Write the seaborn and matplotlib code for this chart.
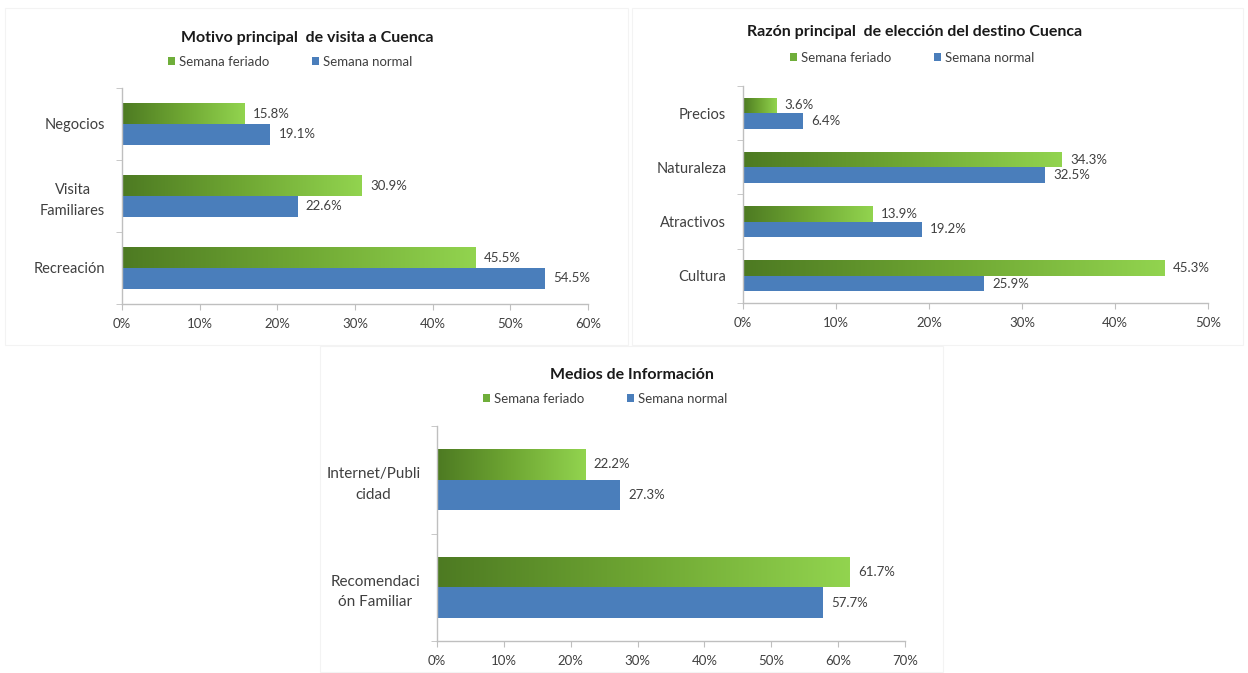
import numpy as np
import pandas as pd
import matplotlib
matplotlib.use("Agg")
import matplotlib.pyplot as plt
import seaborn as sns
from matplotlib.colors import LinearSegmentedColormap
from matplotlib.patches import Rectangle, Patch
from matplotlib.ticker import FuncFormatter, MultipleLocator, FixedLocator

# ---------------- data ----------------
series = ["Semana feriado", "Semana normal"]

title1 = "Motivo principal  de visita a Cuenca"
cat1 = ["Negocios", "Visita\nFamiliares", "Recreación"]
feriado1 = [15.8, 30.9, 45.5]
normal1 = [19.1, 22.6, 54.5]
xmax1 = 60

title2 = "Razón principal  de elección del destino Cuenca"
cat2 = ["Precios", "Naturaleza", "Atractivos", "Cultura"]
feriado2 = [3.6, 34.3, 13.9, 45.3]
normal2 = [6.4, 32.5, 19.2, 25.9]
xmax2 = 50

title3 = "Medios de Información"
cat3 = ["Internet/Publi\ncidad", "Recomendaci\nón Familiar"]
feriado3 = [22.2, 61.7]
normal3 = [27.3, 57.7]
xmax3 = 70

# ---------------- style ----------------
sns.set_style("white")
plt.rcParams["font.family"] = ["Lato", "DejaVu Sans"]

W, H = 1248, 673
fig = plt.figure(figsize=(W / 100, H / 100), dpi=100)
fig.patch.set_facecolor("white")

GREEN_DARK = "#4d7a22"
GREEN_LIGHT = "#92d44f"
BLUE = "#4a7ebb"
TXT = "#404040"
AXC = "#bfbfbf"
green_cmap = LinearSegmentedColormap.from_list("g", [GREEN_DARK, "#6fa733", GREEN_LIGHT])


def px_axes(left, top, right, bottom):
    return fig.add_axes([left / W, 1 - bottom / H, (right - left) / W, (bottom - top) / H])


def panel(ax, cats, fer, nor, xmax, title, title_xy, legend_xy, ylab_size=10.5):
    df = pd.DataFrame({
        "cat": cats * 2,
        "serie": [series[0]] * len(cats) + [series[1]] * len(cats),
        "val": list(fer) + list(nor),
    })
    sns.barplot(data=df, y="cat", x="val", hue="serie", hue_order=series,
                order=cats, palette=[GREEN_LIGHT, BLUE], width=0.57, gap=0,
                orient="h", ax=ax, legend=False, saturation=1)
    n = len(cats)
    ax.set_xlim(0, xmax)
    ax.set_ylim(n - 0.5, -0.5)
    # gradient on green bars
    for p in ax.containers[0]:
        x0, y0 = p.get_x(), p.get_y()
        w, h = p.get_width(), p.get_height()
        p.set_facecolor("none")
        p.set_edgecolor("none")
        grad = np.linspace(0, 1, 256).reshape(1, -1)
        im = ax.imshow(grad, extent=[x0, x0 + w, y0 + h, y0], aspect="auto",
                       cmap=green_cmap, zorder=2, interpolation="bilinear")
        im.set_clip_path(p)
    for p in ax.containers[1]:
        p.set_edgecolor("none")
        p.set_zorder(2)
    ax.set_xlim(0, xmax)
    ax.set_ylim(n - 0.5, -0.5)
    ax.set_aspect("auto")
    # value labels
    for cont in ax.containers:
        for p in cont:
            v = p.get_width()
            ax.text(v + xmax * 0.018, p.get_y() + p.get_height() / 2, f"{v:.1f}%",
                    va="center", ha="left", fontsize=9.5, color=TXT, zorder=3)
    # axes styling
    ax.set_xlabel("")
    ax.set_ylabel("")
    for s in ["top", "right"]:
        ax.spines[s].set_visible(False)
    for s in ["left", "bottom"]:
        ax.spines[s].set_color(AXC)
        ax.spines[s].set_linewidth(1)
    ax.xaxis.set_major_locator(MultipleLocator(10))
    ax.xaxis.set_major_formatter(FuncFormatter(lambda v, _: f"{v:.0f}%"))
    ax.tick_params(axis="x", direction="out", length=4, color=AXC, labelsize=9.5,
                   labelcolor=TXT, pad=6, bottom=True)
    ax.tick_params(axis="y", length=0, labelsize=ylab_size, labelcolor=TXT, pad=12, left=False)
    ax.yaxis.set_minor_locator(FixedLocator(np.arange(-0.5, n, 1.0)))
    ax.tick_params(axis="y", which="minor", direction="out", length=4, color=AXC, left=True)
    ax.set_yticks(range(n))
    ax.set_yticklabels(cats, ha="right", multialignment="center", linespacing=1.6)
    ax.grid(False)
    # title & legend
    fig.text(title_xy[0] / W, 1 - title_xy[1] / H, title, ha="center", va="center",
             fontsize=11.5, fontweight="bold", color="#1a1a1a")
    handles = [Patch(facecolor="#6fae3a", edgecolor="none"), Patch(facecolor=BLUE, edgecolor="none")]
    fig.legend(handles, series, loc="center", ncol=2, frameon=False,
               bbox_to_anchor=(legend_xy[0] / W, 1 - legend_xy[1] / H),
               handlelength=0.55, handleheight=0.55, handletextpad=0.3,
               columnspacing=3.2, fontsize=9.5, labelcolor=TXT)


ax1 = px_axes(122, 88, 588, 304)
panel(ax1, cat1, feriado1, normal1, xmax1, title1, (307, 38), (290, 62), 10.5)
ax2 = px_axes(743, 86, 1208, 303)
panel(ax2, cat2, feriado2, normal2, xmax2, title2, (915, 32), (912, 58), 10.5)
ax3 = px_axes(437, 426, 905, 641)
panel(ax3, cat3, feriado3, normal3, xmax3, title3, (632, 375), (605, 399), 11)

# faint panel frames
for (l, t, r, b) in [(5, 8, 628, 345), (632, 8, 1243, 345), (320, 346, 943, 672)]:
    fig.add_artist(Rectangle((l / W, 1 - b / H), (r - l) / W, (b - t) / H,
                             transform=fig.transFigure, fill=False,
                             edgecolor="#f3f3f3", linewidth=0.8))

fig.savefig("out.png", dpi=100)
